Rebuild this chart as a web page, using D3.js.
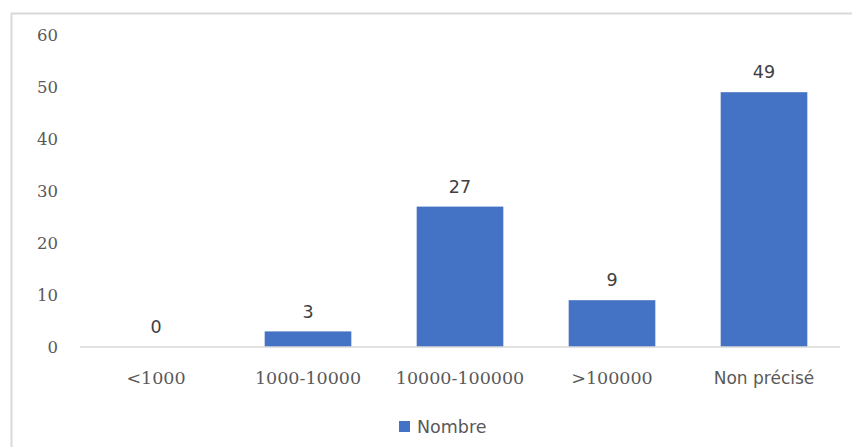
<!DOCTYPE html>
<html>
<head>
<meta charset="utf-8">
<script src="https://cdn.jsdelivr.net/npm/d3@7"></script>
<style>
  html, body { margin: 0; padding: 0; background: #fff; }
  svg { display: block; }
</style>
</head>
<body>
<svg id="chart" width="852" height="447"></svg>
<script>
// Categories and counts
const categories = ["<1000", "1000-10000", "10000-100000", ">100000", "Non précisé"];
const values = [0, 3, 27, 9, 49];
const yTicks = [0, 10, 20, 30, 40, 50, 60];
const seriesName = "Nombre";

const W = 852, H = 447;
const svg = d3.select("#chart");

// Outer frame
svg.append("rect")
  .attr("x", 11.5).attr("y", 13.5)
  .attr("width", W + 20).attr("height", H + 20)
  .attr("fill", "none").attr("stroke", "#d9d9d9").attr("stroke-width", 2);

const x = d3.scaleBand().domain(categories).range([80, 840]).paddingInner(0.43).paddingOuter(0.215);
const y = d3.scaleLinear().domain([0, 60]).range([347, 35]);

const serif = "'DejaVu Serif', serif";
const sans = "'DejaVu Sans', sans-serif";

// Y axis labels (no axis line)
const yAxis = d3.axisLeft(y).tickValues(yTicks).tickSize(0).tickPadding(0);
const gy = svg.append("g").attr("transform", "translate(58,0)").call(yAxis);
gy.select(".domain").remove();
gy.selectAll("text").attr("font-family", serif).attr("font-size", 16.5).attr("fill", "#595959");

// Bars
svg.append("g").selectAll("rect").data(values).join("rect")
  .attr("x", (d, i) => x(categories[i]))
  .attr("y", d => y(d))
  .attr("width", x.bandwidth())
  .attr("height", d => y(0) - y(d))
  .attr("fill", "#4472c4");

// Baseline
svg.append("line")
  .attr("x1", 80).attr("x2", 840).attr("y1", y(0)).attr("y2", y(0))
  .attr("stroke", "#d9d9d9").attr("stroke-width", 1.5);

// Value labels
svg.append("g").selectAll("text").data(values).join("text")
  .attr("x", (d, i) => x(categories[i]) + x.bandwidth() / 2)
  .attr("y", d => y(d) - 20)
  .attr("dy", "0.35em")
  .attr("text-anchor", "middle")
  .attr("font-family", sans).attr("font-size", 17.5)
  .attr("fill", "#404040")
  .text(d => d);

// X axis labels
const xAxis = d3.axisBottom(x).tickSize(0).tickPadding(0);
const gx = svg.append("g").attr("transform", `translate(0,${y(0) + 31})`).call(xAxis);
gx.select(".domain").remove();
gx.selectAll("text").attr("font-family", serif).attr("font-size", 17.5).attr("fill", "#595959")
  .attr("y", 0).attr("dy", "0.35em");
gx.selectAll("text").filter(d => d === "Non précisé").attr("font-family", sans).attr("font-size", 17);

// Legend
const lg = svg.append("g").attr("transform", "translate(399,421)");
lg.append("rect").attr("width", 11).attr("height", 11).attr("fill", "#4472c4");
lg.append("text").attr("x", 18).attr("y", 6).attr("dy", "0.35em")
  .attr("font-family", sans).attr("font-size", 17.5).attr("fill", "#595959")
  .text(seriesName);
</script>
</body>
</html>
